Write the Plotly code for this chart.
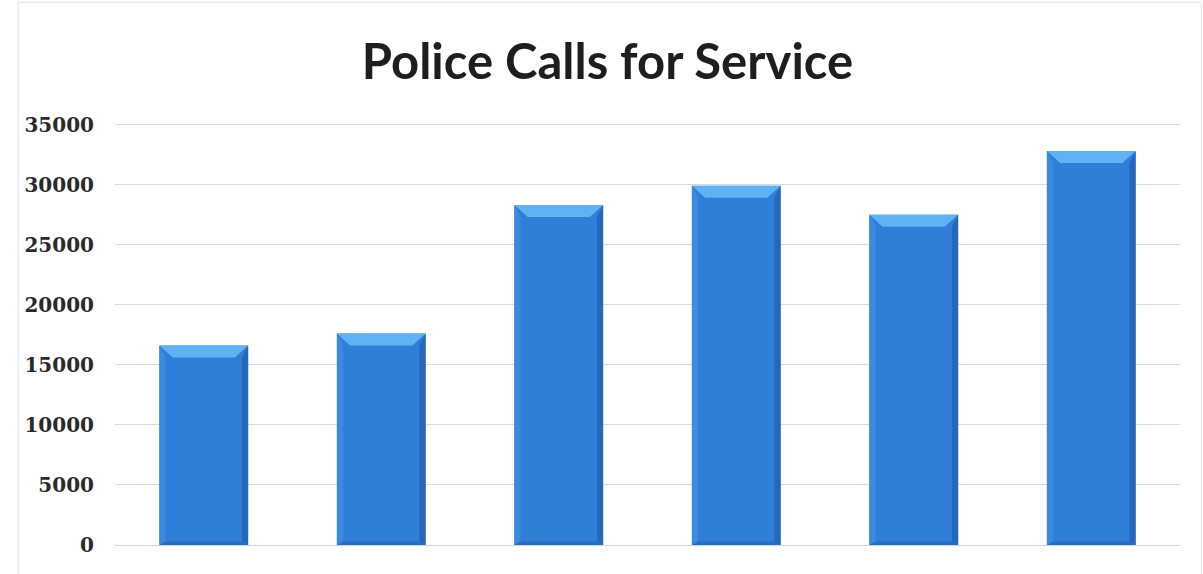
import plotly.graph_objects as go

# Police calls for service, one bar per period
bar_index = [0, 1, 2, 3, 4, 5]
calls = [16600, 17600, 28300, 29900, 27500, 32800]

y_ticks = [0, 5000, 10000, 15000, 20000, 25000, 30000, 35000]

BAR_W = 0.5          # bar width in category units
BEVEL_Y = 1000       # height of the top bevel (data units)
BEVEL_X = 0.075      # horizontal inset of the bevel (category units)
SIDE_X = 0.035       # width of the side shading strips

fig = go.Figure()

# main bar bodies
fig.add_trace(go.Bar(
    x=bar_index, y=calls, width=BAR_W,
    marker=dict(color="#2f7fd8", line=dict(width=0)),
    hoverinfo="y", showlegend=False,
))

# bevel shading computed from each bar's value
for xi, v in zip(bar_index, calls):
    l, r = xi - BAR_W / 2, xi + BAR_W / 2
    # top facet (light)
    fig.add_trace(go.Scatter(
        x=[l, r, r - BEVEL_X, l + BEVEL_X, l],
        y=[v, v, v - BEVEL_Y, v - BEVEL_Y, v],
        fill="toself", fillcolor="#5fb2f4", line=dict(width=0),
        mode="lines", hoverinfo="skip", showlegend=False,
    ))
    # left facet (slightly lighter)
    fig.add_trace(go.Scatter(
        x=[l, l + SIDE_X, l + SIDE_X, l, l],
        y=[v, v - BEVEL_Y, 300, 0, v],
        fill="toself", fillcolor="#3a8be0", line=dict(width=0),
        mode="lines", hoverinfo="skip", showlegend=False,
    ))
    # right facet (darker)
    fig.add_trace(go.Scatter(
        x=[r, r - SIDE_X, r - SIDE_X, r, r],
        y=[v, v - BEVEL_Y, 300, 0, v],
        fill="toself", fillcolor="#2767b8", line=dict(width=0),
        mode="lines", hoverinfo="skip", showlegend=False,
    ))
    # bottom facet (darker)
    fig.add_trace(go.Scatter(
        x=[l, r, r - SIDE_X, l + SIDE_X, l],
        y=[0, 0, 300, 300, 0],
        fill="toself", fillcolor="#2a6cbf", line=dict(width=0),
        mode="lines", hoverinfo="skip", showlegend=False,
    ))

fig.update_layout(
    width=1203, height=574,
    margin=dict(l=115, r=23, t=121, b=29),
    paper_bgcolor="white", plot_bgcolor="white",
    title=dict(
        text="<b>Police Calls for Service</b>",
        font=dict(family="Lato", size=49, color="#1e1e1e"),
        x=0.505, xanchor="center", y=0.892, yanchor="middle",
    ),
    xaxis=dict(
        range=[-0.5, 5.5], showticklabels=False, showgrid=False,
        zeroline=False, showline=False, fixedrange=True,
    ),
    yaxis=dict(
        range=[0, 35300], tickvals=y_ticks,
        ticktext=[str(t) for t in y_ticks],
        tickfont=dict(family="DejaVu Serif", size=20, color="#2a2a2a", weight="bold"),
        showgrid=True, gridcolor="#d3dbe3", gridwidth=1,
        zeroline=True, zerolinecolor="#cdd5de", zerolinewidth=1,
        showline=False, ticklabelstandoff=20,
    ),
    shapes=[dict(
        type="rect", xref="paper", yref="paper",
        x0=-0.091, x1=1.02, y0=-0.07, y1=1.28,
        line=dict(color="#dde3ea", width=1), layer="below",
    )],
    bargap=0.5,
)

fig.write_html("out.html")
